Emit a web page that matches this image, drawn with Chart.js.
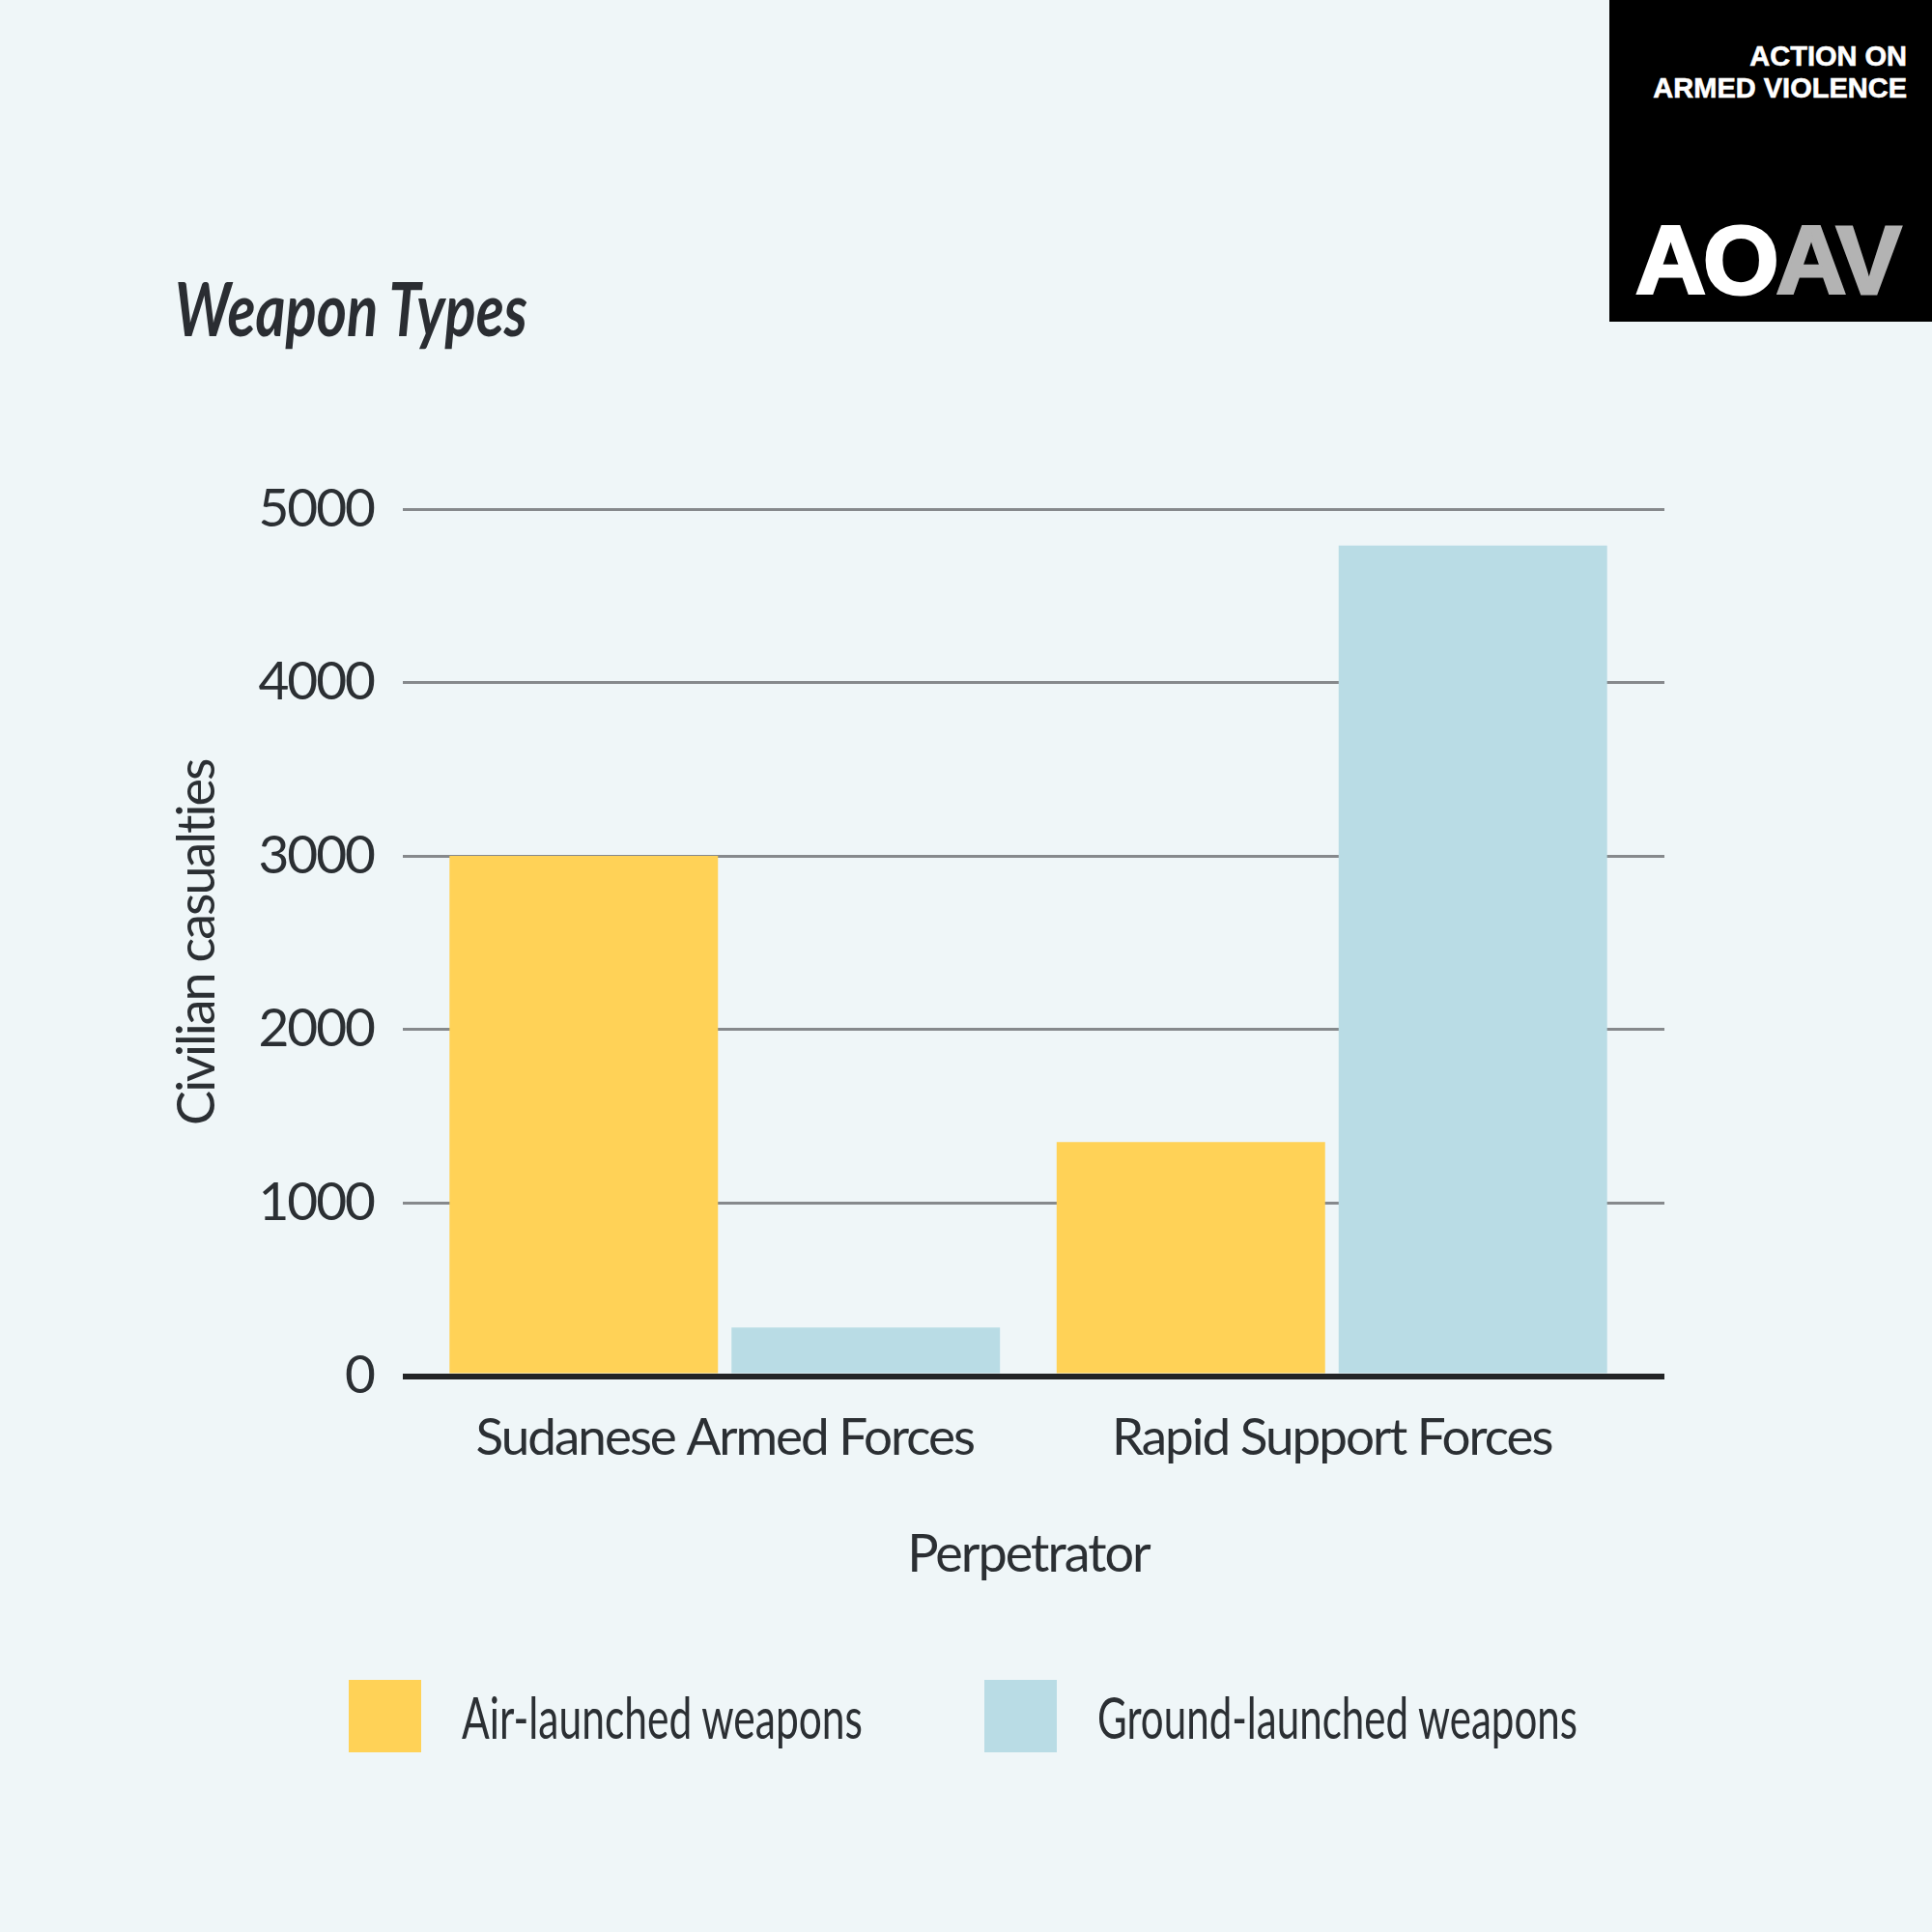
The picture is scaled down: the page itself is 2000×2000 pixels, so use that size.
<!DOCTYPE html>
<html>
<head>
<meta charset="utf-8">
<script src="https://cdn.jsdelivr.net/npm/chart.js@4.4.1/dist/chart.umd.min.js"></script>
<style>
  body { margin: 0; background: #eff6f8; }
  #wrap { position: relative; width: 2000px; height: 2000px; background: #eff6f8; overflow: hidden; }
  #c { position: absolute; left: 0; top: 0; }
  .hum { font-family: Lato, "DejaVu Sans Condensed", sans-serif; }
  #title { position: absolute; left: 181px; top: 281px; font-size: 76px; line-height: 1; font-weight: bold; font-style: italic;
           color: #2a2d32; transform-origin: left top; white-space: nowrap; display: inline-block; }
  #logo { position: absolute; left: 1666px; top: 0; width: 334px; height: 333px; background: #000;
          font-family: "Liberation Sans", Arial, sans-serif; font-weight: bold; color: #fff; }
  #logo .small { position: absolute; right: 26px; font-size: 29px; line-height: 1; white-space: nowrap;
                 -webkit-text-stroke: 0.6px #fff; }
  #logo .big { position: absolute; left: 27px; top: 219px; font-size: 101px; line-height: 1; letter-spacing: -3px;
               white-space: nowrap; -webkit-text-stroke: 3px #fff; }
  #logo .big span { color: #b3b3b3; -webkit-text-stroke: 3px #b3b3b3; }
  #legend { position: absolute; left: 0; top: 1739px; width: 2000px; height: 80px; }
  .item { position: absolute; top: 0; height: 75px; display: flex; align-items: center; white-space: nowrap; }
  .item .box { width: 75px; height: 75px; margin-right: 42px; flex: none; }
  .item .txt { font-size: 60px; color: #2b2f33; display: inline-block; transform-origin: left center; }
</style>
</head>
<body>
<div id="wrap">
  <canvas id="c" width="2000" height="2000"></canvas>
  <div id="title" class="hum">Weapon Types</div>
  <div id="logo">
    <div class="small" style="top:44px">ACTION ON</div>
    <div class="small" style="top:77px">ARMED VIOLENCE</div>
    <div class="big">AO<span>AV</span></div>
  </div>
  <div id="legend" class="hum"></div>
</div>
<script>
var categories = ['Sudanese Armed Forces', 'Rapid Support Forces'];
var airLaunched = [3000, 1350];
var groundLaunched = [280, 4790];
var seriesNames = ['Air-launched weapons', 'Ground-launched weapons'];
var yTicks = [0, 1000, 2000, 3000, 4000, 5000];

var fontFamily = 'Lato, "DejaVu Sans Condensed", sans-serif';
var textColor = '#2b2f33';
var gridColor = '#86898c';
var zeroColor = '#222426';

// original type is a condensed face, tighten the canvas text a little
var tightText = {
  id: 'tightText',
  beforeLayout: function (chart) { chart.ctx.letterSpacing = '-2px'; },
  beforeDraw: function (chart) { chart.ctx.letterSpacing = '-2px'; }
};

// gridlines in the original run a bit past the right edge of the plot
var extendGrid = {
  id: 'extendGrid',
  afterDraw: function (chart) {
    var ctx = chart.ctx;
    var y = chart.scales.y;
    var right = chart.chartArea.right;
    ctx.save();
    y.ticks.forEach(function (t, i) {
      var w = t.value === 0 ? 6 : 3;
      var py = Math.round(y.getPixelForTick(i) - w / 2) + w / 2;
      ctx.beginPath();
      ctx.strokeStyle = t.value === 0 ? zeroColor : gridColor;
      ctx.lineWidth = w;
      ctx.moveTo(right - 4, py);
      ctx.lineTo(right + 30, py);
      ctx.stroke();
    });
    ctx.restore();
  }
};

var chart = new Chart(document.getElementById('c'), {
  type: 'bar',
  data: {
    labels: categories,
    datasets: [
      { label: seriesNames[0], data: airLaunched, backgroundColor: '#ffd257' },
      { label: seriesNames[1], data: groundLaunched, backgroundColor: '#b9dce5' }
    ]
  },
  options: {
    responsive: false,
    animation: false,
    devicePixelRatio: 1,
    categoryPercentage: 0.929,
    barPercentage: 0.952,
    layout: { padding: { top: 527, left: 0, right: 307, bottom: 358 } },
    plugins: {
      legend: { display: false },
      tooltip: { enabled: false }
    },
    scales: {
      x: {
        z: 1,
        grid: { display: false },
        border: { display: true, color: zeroColor, width: 6 },
        ticks: {
          color: textColor, padding: 25, maxRotation: 0, autoSkip: false,
          font: { family: fontFamily, size: 53 }
        },
        title: {
          display: true, text: 'Perpetrator', color: textColor,
          padding: { top: 31, bottom: 0 },
          font: { family: fontFamily, size: 54 }
        }
      },
      y: {
        min: 0,
        max: 5000,
        afterFit: function (scale) { scale.width = 436; },
        afterBuildTicks: function (scale) {
          scale.ticks = yTicks.map(function (v) { return { value: v }; });
        },
        border: { display: false },
        grid: {
          drawTicks: true,
          tickLength: 19,
          color: function (c) { return c.tick && c.tick.value === 0 ? zeroColor : gridColor; },
          lineWidth: function (c) { return c.tick && c.tick.value === 0 ? 6 : 3; }
        },
        ticks: {
          color: textColor, padding: 30,
          font: { family: fontFamily, size: 55 },
          callback: function (v) { return String(v); }
        },
        title: {
          display: true, text: 'Civilian casualties', color: textColor,
          padding: { top: 172, bottom: 0 },
          font: { family: fontFamily, size: 54 }
        }
      }
    }
  },
  plugins: [tightText, extendGrid]
});

// squeeze an html text run horizontally to the width it has in the original
function fitWidth(el, w) {
  var cur = el.getBoundingClientRect().width;
  el.style.transform = 'scaleX(' + (w / cur) + ')';
}

fitWidth(document.getElementById('title'), 365);

// legend built from the chart's own datasets
var legendEl = document.getElementById('legend');
var legendLefts = [361, 1019];
var legendTextWidths = [415, 497];
chart.data.datasets.forEach(function (ds, i) {
  var item = document.createElement('div');
  item.className = 'item';
  item.style.left = legendLefts[i] + 'px';
  item.innerHTML = '<div class="box" style="background:' + ds.backgroundColor + '"></div><div class="txt">' + ds.label + '</div>';
  legendEl.appendChild(item);
  fitWidth(item.querySelector('.txt'), legendTextWidths[i]);
});
</script>
</body>
</html>
